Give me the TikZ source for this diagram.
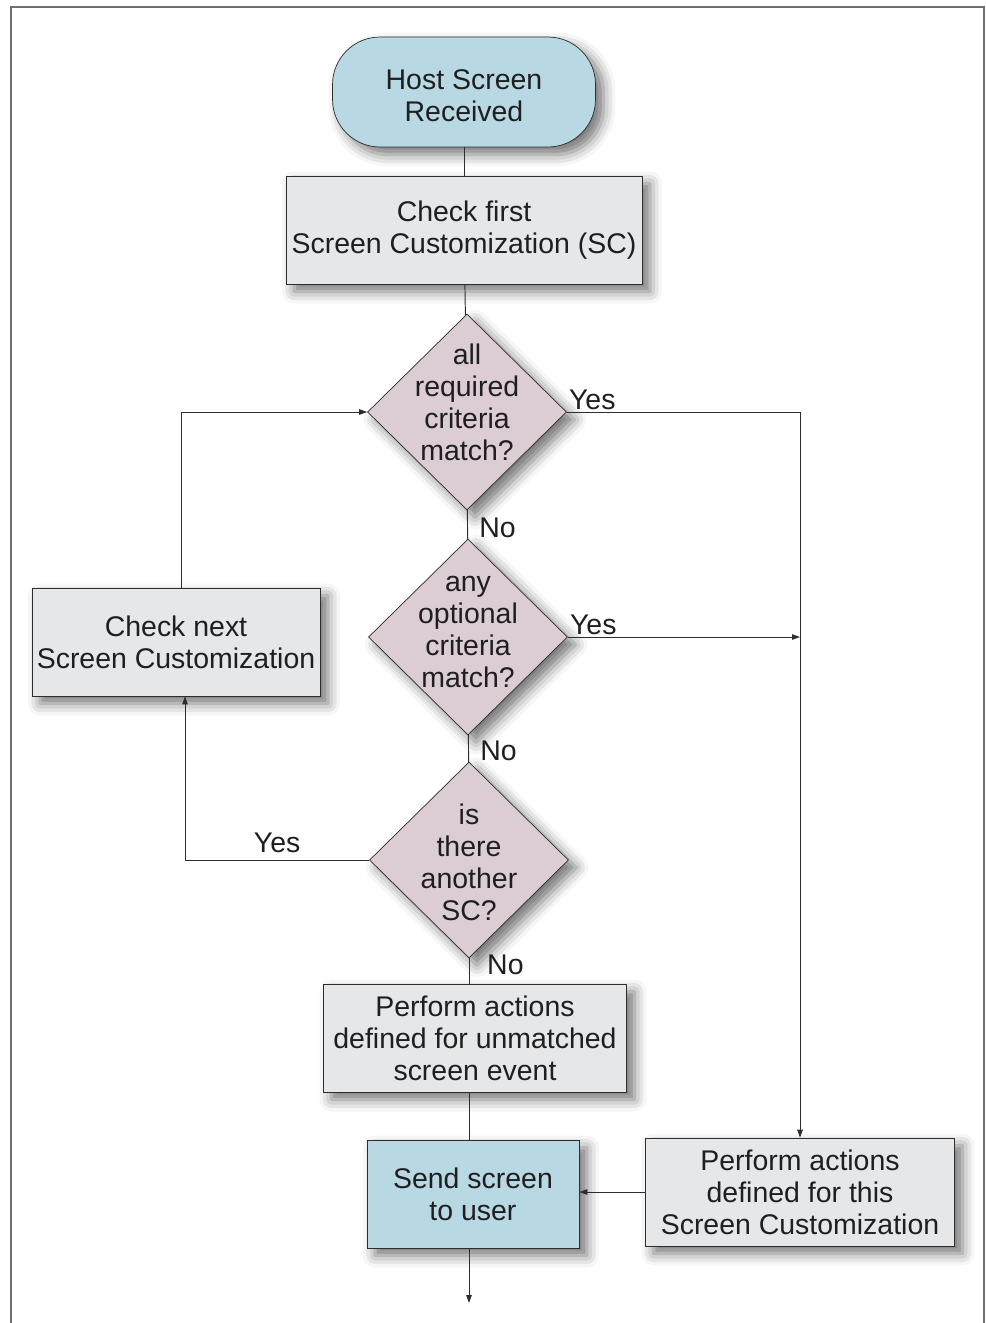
\documentclass[tikz,border=0pt]{standalone}
\usepackage{fontspec}
\setmainfont{Liberation Sans}
\usetikzlibrary{arrows.meta,shapes.geometric,shadows.blur}

\definecolor{termblue}{RGB}{184,216,228}
\definecolor{boxgray}{RGB}{230,231,233}
\definecolor{diamauve}{RGB}{220,205,213}
\definecolor{framegray}{RGB}{110,110,110}
\definecolor{linegray}{RGB}{45,45,45}

% text kept from growing its shape
\newcommand{\dtext}[2][0pt]{\makebox[0pt]{\smash{\raisebox{#1}{\begin{tabular}{@{}c@{}}#2\end{tabular}}}}}

\begin{document}
\begin{tikzpicture}[x=0.02cm, y=-0.02cm,
  every node/.style={font=\fontsize{16.2}{18.2}\selectfont, text=black!88},
  softshadow/.style={blur shadow={shadow xshift=0.16cm, shadow yshift=-0.15cm, shadow blur radius=0.24cm, shadow opacity=55}},
  term/.style={draw=linegray, fill=termblue, rounded corners=0.95cm, minimum width=5.26cm, minimum height=2.2cm, align=center, inner sep=0pt, softshadow},
  proc/.style={draw=linegray, fill=boxgray, align=center, inner sep=0pt, minimum height=2.16cm, softshadow},
  decide/.style={draw=linegray, fill=diamauve, diamond, inner sep=0pt, minimum width=3.98cm, minimum height=3.92cm, softshadow},
  conn/.style={draw=linegray, line width=0.55pt},
  arr/.style={conn, -{Triangle[length=1.6mm, width=1.1mm]}},
  lbl/.style={inner sep=1pt}]

\useasboundingbox (0,0) rectangle (985,1323);

% frame
\draw[framegray, line width=1.1pt] (11,1323) -- (11,7) -- (984,7) -- (984,1323);

% steps
\node[term] (start) at (464,92) {\dtext[-0.30cm]{Host Screen\\Received}};
\node[proc, minimum width=7.12cm] (first) at (464,230) {Check first\\Screen Customization (SC)};
\node[proc, minimum width=5.76cm] (next) at (176,642) {Check next\\Screen Customization};
\node[proc, minimum width=6.06cm] (unmatched) at (475,1038) {Perform actions\\defined for unmatched\\screen event};
\node[proc, fill=termblue, minimum width=4.24cm] (send) at (473,1194) {Send screen\\to user};
\node[proc, minimum width=6.18cm] (this) at (800,1192) {Perform actions\\defined for this\\Screen Customization};
\coordinate (exit) at (469,1303);

% decisions
\node[decide] (all) at (467,412) {\dtext[-0.03cm]{all\\required\\criteria\\match?}};
\node[decide] (opt) at (468,637) {\dtext[-0.07cm]{any\\optional\\criteria\\match?}};
\node[decide] (another) at (469,860) {\dtext[-0.28cm]{is\\there\\another\\SC?}};

% main line
\draw[conn] (start) -- (first);
\draw[conn] (first) -- (all);
\draw[conn] (all) -- node[lbl, pos=0.6, right=0.19cm] {No} (opt);
\draw[conn] (opt) -- node[lbl, pos=0.6, right=0.19cm] {No} (another);
\draw[conn] (another.south) -- node[lbl, pos=0.25, right=0.32cm] {No} (another.south |- unmatched.north);
\draw[conn] (another.south |- unmatched.south) -- (another.south |- send.north);
\draw[arr] (exit |- send.south) -- (exit);

% matches
\draw[arr] (all.east) -| node[lbl, pos=0, anchor=south west] {Yes} (this.north);
\draw[arr] (opt.east) -- node[lbl, pos=0, anchor=south west] {Yes} (opt.east -| this.north);
\draw[arr] (this.west) -- (this.west -| send.east);

% loop to the next SC
\draw[arr] (another.west) -| node[lbl, pos=0.25, above=0.1cm] {Yes} ([xshift=0.18cm]next.south);
\draw[arr] ([xshift=0.1cm]next.north) |- (all.west);

\end{tikzpicture}
\end{document}
